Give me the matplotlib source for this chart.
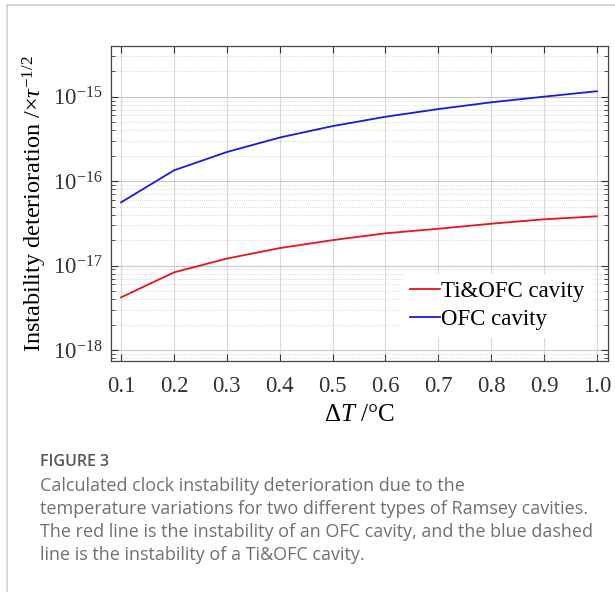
import matplotlib.pyplot as plt
from matplotlib.ticker import LogLocator, NullFormatter, FixedLocator

# temperature variation (deg C)
dT = [0.1, 0.2, 0.3, 0.4, 0.5, 0.6, 0.7, 0.8, 0.9, 1.0]
# instability deterioration
ti_ofc = [4.2e-18, 8.3e-18, 1.21e-17, 1.61e-17, 2.0e-17, 2.41e-17, 2.73e-17, 3.13e-17, 3.53e-17, 3.83e-17]
ofc = [5.6e-17, 1.34e-16, 2.21e-16, 3.28e-16, 4.48e-16, 5.78e-16, 7.13e-16, 8.57e-16, 1.0e-15, 1.16e-15]
xticks = [0.1, 0.2, 0.3, 0.4, 0.5, 0.6, 0.7, 0.8, 0.9, 1.0]
xticklabels = ["0.1", "0.2", "0.3", "0.4", "0.5", "0.6", "0.7", "0.8", "0.9", "1.0"]

caption_head = "FIGURE 3"
caption = ["Calculated clock instability deterioration due to the",
           "temperature variations for two different types of Ramsey cavities.",
           "The red line is the instability of an OFC cavity, and the blue dashed",
           "line is the instability of a Ti&OFC cavity."]

serif = "Liberation Serif"
plt.rcParams["mathtext.fontset"] = "custom"
plt.rcParams["mathtext.rm"] = serif
plt.rcParams["mathtext.it"] = serif + ":italic"

fig = plt.figure(figsize=(6.15, 5.92), dpi=100)
ax = fig.add_axes([0.1805, 0.3902, 0.8081, 0.5321])

ax.plot(dT, ti_ofc, color="#e8141c", lw=1.3, label="Ti&OFC cavity")
ax.plot(dT, ofc, color="#1a1adc", lw=1.3, label="OFC cavity")

ax.set_yscale("log")
ax.set_xlim(0.081, 1.021)
ax.set_ylim(10 ** -18.13, 10 ** -14.4)
ax.xaxis.set_major_locator(FixedLocator(xticks))
ax.set_xticklabels(xticklabels, family=serif, fontsize=16.5)
ax.yaxis.set_major_locator(LogLocator(base=10, numticks=10))
ax.yaxis.set_minor_locator(LogLocator(base=10, subs=range(2, 10), numticks=20))
ax.yaxis.set_minor_formatter(NullFormatter())
for lab in ax.get_yticklabels():
    lab.set_family(serif)
    lab.set_fontsize(16.5)

ax.tick_params(which="both", direction="in", top=True, right=True, colors="#333333")
ax.tick_params(which="major", length=5, width=0.8, pad=6)
ax.tick_params(which="minor", length=3, width=0.6)
ax.tick_params(axis="x", pad=11)
for s in ax.spines.values():
    s.set_color("#444444")
    s.set_linewidth(0.9)

ax.grid(True, which="major", axis="x", color="#d8d8d8", lw=0.8)
ax.grid(True, which="major", axis="y", color="#c8c8c8", lw=0.8)
ax.grid(True, which="minor", axis="y", color="#cccccc", lw=0.6, ls=":")

ax.set_xlabel(r"$\Delta\mathit{T}$ /°C", family=serif, fontsize=18, labelpad=5)
ax.set_ylabel(r"Instability deterioration /×$\mathit{\tau}^{\mathrm{-1/2}}$", family=serif,
              fontsize=17.5, labelpad=3)

leg = ax.legend(loc="lower right", prop={"family": serif, "size": 16.5}, frameon=True,
                fancybox=False, edgecolor="white", framealpha=1, handlelength=1.3,
                handletextpad=0.05, borderpad=0.3, labelspacing=0.3,
                bbox_to_anchor=(0.99, 0.04))

# page border lines
fig.add_artist(plt.Line2D([7 / 615, 1], [1 - 5 / 592, 1 - 5 / 592], color="#d0d0d0", lw=1.2))
fig.add_artist(plt.Line2D([7 / 615, 7 / 615], [0, 1 - 5 / 592], color="#d0d0d0", lw=1.2))

fig.text(40 / 615, 1 - 462 / 592, caption_head, family="Open Sans", fontsize=11.5,
         color="#555555", va="center", weight="semibold")
for i, line in enumerate(caption):
    fig.text(40 / 615, 1 - (486 + 23 * i) / 592, line, family="Open Sans", fontsize=13,
             color="#707070", va="center")

fig.savefig("out.png", dpi=100)
